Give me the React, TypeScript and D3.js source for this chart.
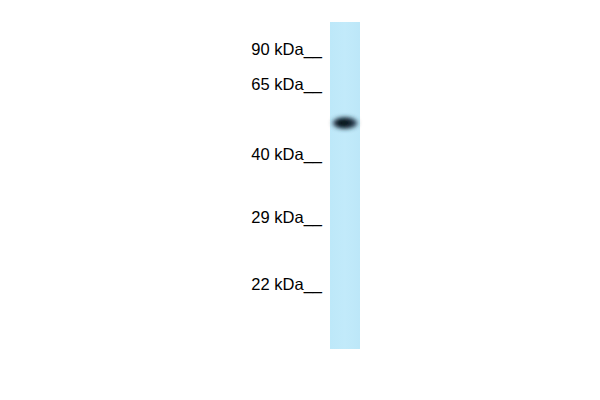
import * as d3 from "d3";

// marker ladder (relative migration down the lane, 0 = top)
const markerLabels = ["90 kDa", "65 kDa", "40 kDa", "29 kDa", "22 kDa"];
const markerMigration = [0.084, 0.191, 0.405, 0.598, 0.803];

// detected band
const bandMigration = [0.309];
const bandIntensity = [1];

const width = 600;
const height = 400;
const lane = { x: 330, y: 22, w: 30, h: 327 };

const App = () => {
  const yScale = d3
    .scaleLinear()
    .domain([0, 1])
    .range([lane.y, lane.y + lane.h]);

  return (
    <svg
      width={width}
      height={height}
      style={{ position: "absolute", left: 0, top: 0, background: "#fff" }}
    >
      <defs>
        <filter id="blur" x="-50%" y="-100%" width="200%" height="300%">
          <feGaussianBlur stdDeviation="2.4 2" />
        </filter>
        <linearGradient id="laneFill" x1="0" x2="1" y1="0" y2="0">
          <stop offset="0" stopColor="#bde8f9" />
          <stop offset="0.5" stopColor="#c2eafa" />
          <stop offset="1" stopColor="#bce7f8" />
        </linearGradient>
      </defs>

      {/* lane */}
      <rect x={lane.x} y={lane.y} width={lane.w} height={lane.h} fill="url(#laneFill)" />

      {/* bands */}
      {bandMigration.map((m, i) => (
        <g key={i} filter="url(#blur)" opacity={bandIntensity[i]}>
          <ellipse cx={lane.x + 15} cy={yScale(m)} rx={12} ry={6} fill="#22384a" />
          <ellipse cx={lane.x + 13.5} cy={yScale(m)} rx={8} ry={4.2} fill="#0c161d" />
        </g>
      ))}

      {/* marker labels */}
      {markerLabels.map((label, i) => (
        <text
          key={label}
          x={322}
          y={yScale(markerMigration[i]) + 5.5}
          textAnchor="end"
          fontFamily="'Liberation Sans', Arial, sans-serif"
          fontSize={16.5}
          fill="#000"
        >
          {label + "__"}
        </text>
      ))}
    </svg>
  );
};

export default App;
